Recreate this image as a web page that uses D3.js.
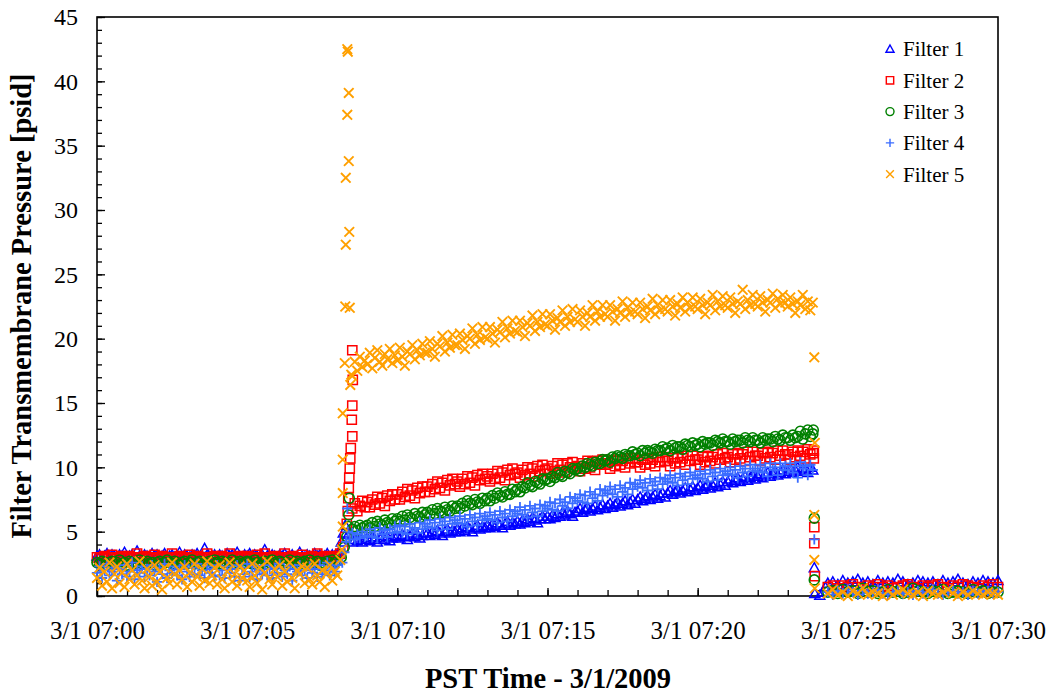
<!DOCTYPE html>
<html>
<head>
<meta charset="utf-8">
<script src="https://cdn.jsdelivr.net/npm/d3@7"></script>
<style>
  body { margin: 0; background: #fff; }
  svg { display: block; }
  text { font-family: "Liberation Serif", "Times New Roman", serif; fill: #000; }
</style>
</head>
<body>
<svg id="chart" width="1053" height="694"></svg>
<script>
// Filter transmembrane pressure log, 3/1/2009 07:00-07:30 (psid)
const seriesNames = ["Filter 1", "Filter 2", "Filter 3", "Filter 4", "Filter 5"];
const seriesColors = ["#0000ff", "#ff0000", "#008000", "#3a6cff", "#ffa000"];
const seriesShapes = ["triangle", "square", "circle", "plus", "cross"];
const yTickValues = [0, 5, 10, 15, 20, 25, 30, 35, 40, 45];
const xTickLabels = ["3/1 07:00", "3/1 07:05", "3/1 07:10", "3/1 07:15", "3/1 07:20", "3/1 07:25", "3/1 07:30"];
const xTitle = "PST Time - 3/1/2009";
const yTitle = "Filter Transmembrane Pressure [psid]";

// Base: 07:00:00-07:08:00 every 5 s (one row per minute)
const f1Base = [
  3.1,3.2,3.0,3.1,3.3,3.0,3.2,3.1,3.0,3.2,3.1,3.4,
  3.0,3.1,3.2,3.0,3.5,3.1,3.0,3.2,3.1,3.0,3.3,3.1,
  3.2,3.0,3.1,3.3,3.0,3.1,3.2,3.0,3.1,3.4,3.0,3.2,
  3.1,3.0,3.2,3.1,3.3,3.0,3.1,3.7,3.2,3.0,3.1,3.2,
  3.0,3.2,3.1,3.0,3.3,3.1,3.2,3.0,3.4,3.1,3.0,3.2,
  3.1,3.3,3.0,3.2,3.1,3.0,3.2,3.6,3.1,3.0,3.2,3.1,
  3.0,3.2,3.1,3.3,3.0,3.1,3.2,3.0,3.1,3.4,3.1,3.0,
  3.2,3.1,3.0,3.3,3.1,3.2,3.0,3.1,3.3,3.0,3.2,3.1,
  3.2];
const f2Base = [
  3.0,2.9,3.0,3.1,2.9,3.0,3.2,3.0,2.9,3.0,3.1,2.9,
  3.0,3.1,2.9,3.0,3.3,3.0,2.9,3.1,3.0,2.9,3.0,3.2,
  2.9,3.0,3.1,3.0,2.9,3.0,3.3,3.0,2.9,3.1,3.0,2.9,
  3.0,3.2,2.9,3.0,3.1,3.0,2.9,3.0,3.3,3.0,2.9,3.1,
  3.0,2.9,3.1,3.0,2.9,3.3,3.0,2.9,3.0,3.1,3.0,2.9,
  3.1,3.0,2.9,3.0,3.2,3.0,2.9,3.3,3.0,2.9,3.0,3.1,
  3.0,2.9,3.0,3.3,3.0,2.9,3.1,3.0,2.9,3.0,3.2,3.0,
  2.9,3.0,3.1,3.0,3.3,2.9,3.0,3.1,3.0,2.9,3.0,3.1,
  3.0];
const f3Base = [
  2.6,2.5,2.7,2.6,2.4,2.6,2.7,2.5,2.6,2.8,2.5,2.6,
  2.4,2.7,2.6,2.5,2.6,2.8,2.5,2.6,2.7,2.5,2.6,2.4,
  2.6,2.7,2.5,2.6,2.8,2.6,2.5,2.7,2.6,2.4,2.6,2.7,
  2.5,2.6,2.8,2.5,2.6,2.7,2.4,2.6,2.5,2.7,2.6,2.8,
  2.6,2.5,2.7,2.6,2.4,2.6,2.8,2.5,2.6,2.7,2.5,2.6,
  2.7,2.6,2.5,2.8,2.6,2.4,2.6,2.7,2.5,2.6,2.8,2.6,
  2.5,2.7,2.6,2.4,2.6,2.8,2.5,2.6,2.7,2.5,2.6,2.7,
  2.6,2.8,2.5,2.6,2.7,2.4,2.6,2.5,2.7,2.6,2.8,2.6,
  2.7];
const f4Base = [
  1.8,2.3,1.4,2.0,2.5,1.6,1.9,2.2,1.2,2.1,1.7,2.4,
  1.5,1.9,2.6,1.3,2.0,1.8,2.3,1.5,2.1,1.6,2.4,1.9,
  1.1,2.2,1.7,2.5,1.4,2.0,1.8,2.3,1.6,2.1,1.3,2.4,
  1.9,1.5,2.2,1.7,2.5,1.6,2.0,1.4,2.3,1.8,2.1,1.5,
  2.4,1.6,2.0,1.4,2.3,1.8,2.1,1.5,2.4,1.2,2.2,1.7,
  2.5,1.5,1.9,2.3,1.3,2.0,1.7,2.4,1.6,2.1,1.4,2.2,
  1.8,2.5,1.5,2.0,1.7,2.3,1.2,2.1,1.9,2.4,1.6,2.0,
  1.4,2.3,1.8,2.1,1.5,2.4,1.7,2.0,2.6,1.6,2.2,1.9,
  2.4];
const f5Base = [
  1.4,2.2,0.8,1.9,1.1,2.6,0.6,1.7,2.3,1.0,1.8,0.7,
  2.5,1.3,2.0,0.9,1.6,2.7,1.2,0.6,2.1,1.5,0.8,2.4,
  1.1,1.9,0.5,2.2,1.4,1.0,2.6,1.7,0.9,2.0,1.3,2.3,
  0.7,1.8,1.1,2.5,1.5,0.8,2.1,1.2,2.7,1.0,1.6,2.2,
  0.9,2.4,1.3,0.6,1.9,2.6,1.1,1.7,0.8,2.3,1.4,2.0,
  1.2,0.7,2.5,1.6,1.0,2.2,0.5,1.8,2.7,1.3,0.9,2.1,
  1.5,2.4,0.8,1.9,1.1,2.6,1.4,0.6,2.0,1.7,2.3,1.0,
  2.2,1.3,0.9,2.5,1.6,1.1,2.0,0.7,1.8,2.4,1.2,1.9,
  1.6];

// Run: 07:08:30-07:23:50 every 5 s (first row 07:08:30-07:08:55, then one row per minute)
const f1Run = [
  4.2,4.4,4.3,4.5,4.2,4.4,
  4.5,4.3,4.6,4.4,4.2,4.5,4.7,4.4,4.6,4.3,4.5,4.6,
  4.7,4.5,4.8,4.6,4.4,4.7,4.9,4.6,4.8,4.5,4.7,4.9,
  4.9,4.7,5.0,4.8,5.1,4.9,4.7,5.0,5.2,4.9,5.1,5.0,
  5.2,5.0,5.3,5.1,5.4,5.2,5.0,5.3,5.5,5.2,5.4,5.3,
  5.5,5.3,5.6,5.4,5.7,5.5,5.3,5.6,5.8,5.5,5.7,5.6,
  5.8,5.6,5.9,5.7,6.0,5.8,6.1,5.9,5.7,6.0,6.2,6.0,
  6.2,6.0,6.3,6.1,6.4,6.2,6.5,6.3,6.6,6.4,6.2,6.5,
  6.6,6.8,6.5,6.7,6.9,6.6,6.8,7.0,6.7,6.9,7.1,6.8,
  7.0,7.2,6.9,7.1,7.3,7.0,7.2,7.4,7.1,7.3,7.5,7.2,
  7.5,7.7,7.4,7.6,7.8,7.5,7.7,7.9,7.6,7.8,8.0,7.7,
  8.0,8.2,7.9,8.1,8.3,8.0,8.2,8.4,8.1,8.3,8.5,8.2,
  8.4,8.6,8.3,8.5,8.7,8.4,8.6,8.8,8.5,8.7,8.9,8.6,
  8.9,9.1,8.8,9.0,9.2,8.9,9.1,9.3,9.0,9.2,9.4,9.1,
  9.3,9.5,9.2,9.4,9.6,9.3,9.5,9.7,9.4,9.6,9.8,9.5,
  9.7,9.9,9.6,9.8,10.0,9.7,9.9,9.8,9.6,10.0,9.8];
const f2Run = [
  6.8,7.2,6.6,7.0,7.4,6.9,
  7.3,6.9,7.5,7.1,7.7,7.2,7.6,7.0,7.8,7.4,7.9,7.5,
  7.9,7.5,8.1,7.7,8.3,7.8,8.2,7.6,8.4,8.0,8.5,8.1,
  8.5,8.1,8.7,8.3,8.9,8.4,8.8,8.2,9.0,8.6,9.1,8.7,
  8.9,8.5,9.1,8.7,9.3,8.8,9.2,8.6,9.4,9.0,9.5,9.1,
  9.3,8.9,9.5,9.1,9.7,9.2,9.6,9.0,9.8,9.4,9.9,9.5,
  9.6,9.2,9.8,9.4,10.0,9.5,9.9,9.3,10.1,9.7,10.2,9.8,
  9.9,9.5,10.1,9.7,10.3,9.8,10.2,9.6,10.3,10.0,10.4,10.0,
  10.1,9.7,10.3,9.9,10.5,10.0,10.4,9.8,10.5,10.2,10.6,10.2,
  10.3,9.9,10.5,10.1,10.6,10.2,10.5,10.0,10.7,10.3,10.7,10.4,
  10.4,10.0,10.6,10.2,10.7,10.3,10.6,10.1,10.8,10.4,10.8,10.5,
  10.5,10.1,10.7,10.3,10.8,10.4,10.7,10.2,10.9,10.5,10.9,10.6,
  10.6,10.2,10.8,10.4,10.9,10.5,10.8,10.3,11.0,10.6,11.1,10.7,
  10.8,10.4,11.0,10.6,11.1,10.7,11.0,10.5,11.2,10.8,11.2,10.9,
  10.9,10.5,11.1,10.7,11.2,10.8,11.1,10.6,11.3,10.9,11.3,11.0,
  11.0,10.6,11.2,10.8,11.3,10.9,11.2,10.7,11.4,11.0,11.1];
const f3Run = [
  5.2,5.4,5.1,5.5,5.3,5.4,
  5.5,5.3,5.7,5.4,5.8,5.6,5.5,5.9,5.7,5.6,6.0,5.8,
  6.0,5.8,6.2,5.9,6.3,6.1,6.0,6.4,6.2,6.1,6.5,6.3,
  6.5,6.3,6.7,6.4,6.8,6.6,6.5,6.9,6.7,6.6,7.0,6.8,
  7.0,6.8,7.2,7.0,7.4,7.2,7.1,7.5,7.3,7.2,7.6,7.4,
  7.6,7.4,7.8,7.6,8.0,7.8,7.7,8.1,7.9,7.9,8.3,8.1,
  8.3,8.1,8.5,8.4,8.8,8.6,8.5,8.9,8.8,8.7,9.1,9.0,
  9.1,8.9,9.3,9.2,9.6,9.4,9.3,9.7,9.6,9.5,9.9,9.8,
  9.9,9.7,10.1,10.0,10.3,10.2,10.1,10.4,10.3,10.3,10.6,10.5,
  10.6,10.4,10.8,10.7,10.9,10.8,10.7,11.0,10.9,10.9,11.2,11.0,
  11.1,10.9,11.3,11.1,11.3,11.2,11.1,11.4,11.3,11.3,11.6,11.4,
  11.5,11.3,11.7,11.5,11.6,11.6,11.4,11.8,11.7,11.6,11.9,11.7,
  11.8,11.6,12.0,11.8,11.9,11.9,11.7,12.1,12.0,11.9,12.2,12.0,
  12.0,11.8,12.2,12.0,12.1,12.1,11.9,12.3,12.1,12.0,12.3,12.1,
  12.1,11.9,12.3,12.1,12.2,12.2,12.0,12.4,12.2,12.1,12.5,12.3,
  12.3,12.1,12.5,12.3,12.4,12.8,12.2,12.6,12.9,12.4,12.6];
const f4Run = [
  4.9,4.4,4.8,4.5,5.0,4.6,
  4.7,5.2,4.6,5.0,4.5,5.3,4.8,5.1,4.6,5.2,4.9,5.4,
  5.0,5.5,4.9,5.4,4.8,5.6,5.1,5.3,4.9,5.7,5.2,5.6,
  5.4,5.9,5.3,5.7,5.1,6.0,5.5,5.8,5.2,6.1,5.6,5.9,
  5.7,6.2,5.6,6.0,5.4,6.3,5.8,6.1,5.5,6.4,5.9,6.2,
  6.0,6.5,5.9,6.3,5.7,6.6,6.1,6.4,5.8,6.7,6.2,6.6,
  6.4,6.9,6.3,6.7,6.1,7.0,6.5,6.8,6.2,7.1,6.6,7.0,
  6.8,7.3,6.7,7.2,6.6,7.5,7.0,7.3,6.8,7.7,7.2,7.6,
  7.4,7.9,7.3,7.8,7.2,8.1,7.6,7.9,7.4,8.3,7.8,8.2,
  8.0,8.5,7.9,8.3,7.7,8.6,8.1,8.4,7.9,8.8,8.3,8.7,
  8.5,9.0,8.4,8.8,8.2,9.1,8.6,8.9,8.3,9.2,8.7,9.1,
  8.9,9.4,8.8,9.2,8.6,9.5,9.0,9.3,8.7,9.6,9.1,9.4,
  9.2,9.7,9.1,9.5,8.9,9.8,9.3,9.6,9.0,9.9,9.4,9.7,
  9.5,10.0,9.4,9.8,9.2,10.1,9.6,9.9,9.3,10.2,9.7,9.9,
  9.7,10.2,9.6,10.0,9.3,10.3,9.8,10.0,9.4,10.3,9.8,10.1,
  9.8,10.3,9.6,10.1,9.2,10.4,9.9,10.1,9.4,10.2,9.8];
const f5Run = [
  17.1,18.2,17.5,18.6,17.8,18.3,
  18.0,18.9,17.7,18.5,19.1,18.2,17.9,18.8,18.4,19.2,18.1,18.7,
  18.3,19.3,18.6,17.9,19.0,18.8,19.5,18.4,19.1,18.7,19.6,18.9,
  18.9,19.8,19.2,18.6,19.6,19.4,20.2,19.0,19.7,19.3,20.3,19.5,
  19.5,20.4,19.9,19.2,20.2,20.0,20.8,19.6,20.3,19.9,20.9,20.1,
  20.0,20.9,20.4,19.7,20.7,20.5,21.3,20.1,20.8,20.4,21.4,20.6,
  20.5,21.4,20.9,20.2,21.2,21.0,21.8,20.6,21.3,20.9,21.9,21.1,
  21.0,21.9,21.4,20.7,21.6,21.3,22.2,21.0,21.7,21.3,22.3,21.5,
  21.3,22.2,21.7,21.0,22.0,21.7,22.6,21.4,22.1,21.7,22.6,21.9,
  21.7,22.6,22.1,21.4,22.3,22.0,22.9,21.7,22.4,22.0,22.8,22.1,
  21.9,22.8,22.3,21.6,22.5,22.2,23.1,21.9,22.6,22.2,23.0,22.3,
  22.1,23.0,22.5,21.8,22.7,22.4,23.2,22.1,22.8,22.4,23.2,22.5,
  22.3,23.1,22.6,21.9,22.8,22.6,23.4,22.2,22.9,22.5,23.3,22.6,
  22.4,23.2,22.7,22.0,22.9,22.7,23.8,22.3,23.0,22.6,23.4,22.7,
  22.5,23.3,22.8,22.1,23.0,22.8,23.5,22.4,23.1,22.7,23.4,22.8,
  22.5,23.2,22.7,22.0,22.9,22.6,23.4,22.3,22.9,22.2,22.8];

// Post: 07:24:20-07:30:00 every 10 s
const f1Post = [1.0,1.1,0.9,1.2,1.0,1.1,1.3,1.0,1.1,0.9,
  1.2,1.0,1.1,1.0,1.3,1.1,0.9,1.0,1.2,1.1,
  1.0,1.1,0.9,1.2,1.0,1.1,1.3,1.0,0.9,1.1,
  1.0,1.2,1.1,1.0,1.2];
const f2Post = [0.7,0.8,0.6,0.8,0.7,0.9,0.7,0.6,0.8,0.7,
  0.9,0.7,0.8,0.6,0.7,0.8,0.9,0.7,0.6,0.8,
  0.7,0.8,0.9,0.7,0.6,0.8,0.7,0.9,0.8,0.7,
  0.6,0.8,0.7,0.9,0.7];
const f3Post = [0.3,0.4,0.2,0.5,0.3,0.4,0.2,0.6,0.3,0.4,
  0.2,0.3,0.5,0.3,0.4,0.2,0.3,0.6,0.4,0.3,
  0.2,0.4,0.3,0.5,0.2,0.3,0.4,0.3,0.2,0.5,
  0.3,0.4,0.2,0.3,0.3];
const f4Post = [0.3,0.1,0.4,0.2,0.5,0.3,0.1,0.4,0.2,0.3,
  0.5,0.2,0.1,0.3,0.4,0.2,0.3,0.1,0.4,0.2,
  0.3,0.5,0.2,0.1,0.3,0.4,0.2,0.3,0.1,0.4,
  0.2,0.3,0.4,0.2,0.3];
const f5Post = [0.2,0.5,0.1,0.3,0.0,0.4,0.2,0.6,0.1,0.3,
  0.2,0.0,0.4,0.1,0.3,0.5,0.2,0.1,0.3,0.0,
  0.4,0.2,0.1,0.3,0.5,0.2,0.0,0.3,0.1,0.4,
  0.2,0.1,0.3,0.2,0.1];

// Fast readings around start-up and shut-down: [seconds after 07:00:00, psid]
const f1Events = [[484,3.5],[488,4.2],[492,4.9],[496,5.5],[502,4.8],
  [1433,2.2],[1434,0.2],[1444,0.05],[1450,0.3],[1455,0.7]];
const f2Events = [[486,3.3],[492,3.8],[496,4.6],[499,5.6],[501,6.6],[502,7.6],
  [503,8.4],[504,9.2],[505,9.9],[506,10.7],[507,11.5],[510,12.4],[509,13.7],
  [510,14.8],[511,16.8],[510,19.1],
  [1432,11.3],[1432,10.7],[1433,5.35],[1433,4.1],[1434,1.55]];
const f3Events = [[488,3.0],[494,3.8],[499,4.6],[502,5.4],[503,6.3],[504,7.6],
  [1431,12.9],[1433,6.05],[1433,1.25]];
const f4Events = [[490,2.6],[494,3.4],[498,4.2],[501,5.0],[500,6.8],[505,4.4],
  [1433,4.4]];
const f5Events = [[486,2.8],[489,3.6],[491,5.4],[491,8.0],[491,10.6],[491,14.2],
  [495,18.1],[496,22.5],[497,27.3],[497,32.5],[500,42.5],[501,42.3],[500,37.4],
  [503,39.1],[503,33.8],[504,28.3],[505,22.4],[506,16.4],[508,17.2],
  [1433,18.55],[1434,11.9],[1433,6.3],[1433,2.8],[1434,0.6]];

const segments = { base: [0, 5], run: [510, 5], post: [1460, 10] }; // [start s, step s]
const t0 = new Date(2009, 2, 1, 7, 0, 0);
const at = s => new Date(t0.getTime() + s * 1000);

function buildSeries(base, run, post, events) {
  const pts = [];
  const add = (arr, [start, step]) => arr.forEach((v, i) => pts.push({ t: at(start + i * step), v }));
  add(base, segments.base);
  add(run, segments.run);
  add(post, segments.post);
  events.forEach(([s, v]) => pts.push({ t: at(s), v }));
  return pts;
}

const series = [
  buildSeries(f1Base, f1Run, f1Post, f1Events),
  buildSeries(f2Base, f2Run, f2Post, f2Events),
  buildSeries(f3Base, f3Run, f3Post, f3Events),
  buildSeries(f4Base, f4Run, f4Post, f4Events),
  buildSeries(f5Base, f5Run, f5Post, f5Events)
];

const svg = d3.select("#chart");
const plot = { left: 97, top: 17, right: 998, bottom: 596 };

const x = d3.scaleTime()
  .domain([t0, at(1800)])
  .range([plot.left, plot.right]);
const y = d3.scaleLinear()
  .domain([0, 45])
  .range([plot.bottom, plot.top]);

// Marker outlines
const shapePath = {
  triangle: "M0,-5L5,4L-5,4Z",
  square: "M-4.6,-4.6H4.6V4.6H-4.6Z",
  circle: "M-5,0A5,5 0 1,0 5,0A5,5 0 1,0 -5,0Z",
  plus: "M-5.2,0H5.2M0,-5.2V5.2",
  cross: "M-4.8,-4.8L4.8,4.8M4.8,-4.8L-4.8,4.8"
};
const markerStroke = [1.5, 1.5, 1.6, 1.8, 1.9];

// Axes: minor ticks every unit / every minute, majors every 5
const yMinor = d3.axisLeft(y).tickValues(d3.range(0, 46, 1)).tickSize(-5).tickFormat("");
const yMajor = d3.axisLeft(y).tickValues(yTickValues).tickSize(-8).tickPadding(19);
const xMinorTicks = d3.range(0, 31).map(m => at(m * 60));
const xMajorTicks = xTickLabels.map((_, i) => at(i * 300));
const xMinor = d3.axisBottom(x).tickValues(xMinorTicks).tickSize(-6).tickFormat("");
const xMajor = d3.axisBottom(x).tickValues(xMajorTicks).tickSize(-8).tickPadding(25)
  .tickFormat((d, i) => xTickLabels[i]);

function styleAxis(g, fontSize) {
  g.select(".domain").remove();
  g.selectAll("line").attr("stroke", "#000").attr("stroke-width", 1.3);
  g.selectAll("text").attr("font-size", fontSize)
    .attr("font-family", "'Liberation Serif', 'Times New Roman', serif").attr("fill", "#000");
}

svg.append("g").attr("transform", `translate(${plot.left},0)`).call(yMinor).call(g => styleAxis(g, 0));
svg.append("g").attr("transform", `translate(${plot.left},0)`).call(yMajor).call(g => styleAxis(g, 24));
svg.append("g").attr("transform", `translate(0,${plot.bottom})`).call(xMinor).call(g => styleAxis(g, 0));
svg.append("g").attr("transform", `translate(0,${plot.bottom})`).call(xMajor).call(g => styleAxis(g, 25));

// Plot frame
svg.append("rect")
  .attr("x", plot.left).attr("y", plot.top)
  .attr("width", plot.right - plot.left).attr("height", plot.bottom - plot.top)
  .attr("fill", "none").attr("stroke", "#000").attr("stroke-width", 1.6);

// Points
series.forEach((pts, k) => {
  svg.append("g")
    .selectAll("path")
    .data(pts)
    .join("path")
    .attr("d", shapePath[seriesShapes[k]])
    .attr("transform", d => `translate(${x(d.t)},${y(d.v)})`)
    .attr("fill", "none")
    .attr("stroke", seriesColors[k])
    .attr("stroke-width", markerStroke[k]);
});

// Legend
const legend = svg.append("g").attr("transform", "translate(890,49)");
seriesNames.forEach((name, k) => {
  const row = legend.append("g").attr("transform", `translate(0,${k * 31.3})`);
  row.append("path")
    .attr("d", shapePath[seriesShapes[k]])
    .attr("transform", "scale(0.8)")
    .attr("fill", "none")
    .attr("stroke", seriesColors[k])
    .attr("stroke-width", 1.8);
  row.append("text")
    .attr("x", 13).attr("y", 0).attr("dy", "0.35em")
    .attr("font-size", 21)
    .text(name);
});

// Axis titles
svg.append("text")
  .attr("transform", "translate(31,306) rotate(-90)")
  .attr("text-anchor", "middle")
  .attr("font-size", 28.5).attr("font-weight", "bold")
  .text(yTitle);
svg.append("text")
  .attr("x", 548).attr("y", 688)
  .attr("text-anchor", "middle")
  .attr("font-size", 28.5).attr("font-weight", "bold")
  .text(xTitle);
</script>
</body>
</html>
